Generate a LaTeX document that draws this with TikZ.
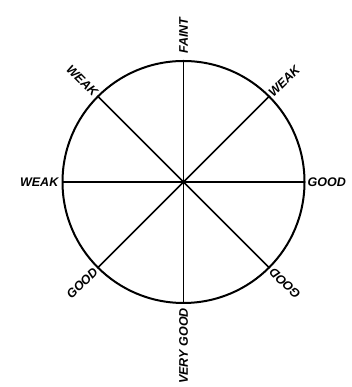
\documentclass[tikz,border=0pt]{standalone}
\usepackage{fontspec}
\setmainfont{Liberation Sans}
\begin{document}
\begin{tikzpicture}[x=1pt,y=1pt,
  lbl/.style={font=\fontsize{12.5}{14}\selectfont\bfseries\itshape, inner sep=0pt},
  rim/.style={line width=2pt},
  spoke/.style={line width=1.5pt}]
\useasboundingbox (0,0) rectangle (352,387);
\node[circle, draw, rim, minimum size=242pt, inner sep=0pt, outer sep=0pt] (o) at (183.5,205) {};
\foreach \a in {90,45,0,-45,-90,-135,180,135}
  \draw[spoke] (o.center) -- (o.\a);
\node[lbl, rotate=90, anchor=west] (faint) at ([yshift=7pt]o.90) {FAINT};
\node[lbl, anchor=east] (wl) at ([xshift=-4pt]o.180) {WEAK};
\node[lbl, anchor=west] (gr) at ([xshift=3pt]o.0) {GOOD};
\node[lbl, rotate=90, anchor=east] (vg) at ([yshift=-5pt]o.-90) {VERY GOOD};
\node[lbl, rotate=45, anchor=west] (wtr) at ([shift={(45:2pt)}]o.45) {WEAK};
\node[lbl, rotate=-45, anchor=east] (wtl) at ([shift={(135:3pt)}]o.135) {WEAK};
\node[lbl, rotate=45, anchor=east] (gbl) at ([shift={(225:3pt)}]o.-135) {GOOD};
\node[lbl, rotate=135, anchor=east] (gbr) at ([shift={(-45:3pt)}]o.-45) {GOOD};
\end{tikzpicture}
\end{document}
